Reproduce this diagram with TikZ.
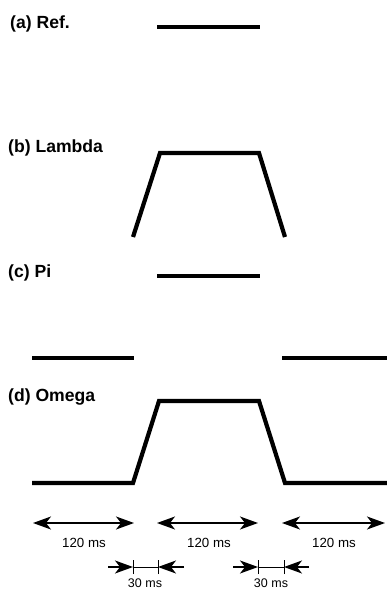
\documentclass[tikz,border=0pt]{standalone}
\usepackage{fontspec}
\setmainfont{Liberation Sans}
\usetikzlibrary{arrows.meta}
\begin{document}
\begin{tikzpicture}[x=1pt,y=-1pt,
  panel/.style={anchor=base west,inner sep=0pt,font=\fontsize{17.6}{19}\selectfont\bfseries},
  wave/.style={line width=4.2pt,line join=miter,line cap=butt},
  level/.style={wave,line width=3.6pt},
  span/.style={line width=1.3pt,{Stealth[length=18pt,width=13pt,inset=5pt]}-{Stealth[length=18pt,width=13pt,inset=5pt]}},
  inward/.style={line width=1.3pt,-{Stealth[length=18pt,width=13pt,inset=5pt]}},
  tick/.style={line width=1pt},
  dur/.style={anchor=base,inner sep=0pt,font=\fontsize{13.3}{15}\selectfont},
  shortdur/.style={anchor=base,inner sep=0pt,font=\fontsize{12.5}{14}\selectfont}]
\useasboundingbox (0,0) rectangle (387,590);

% panel labels
\node[panel] (la) at (10,28) {(a) Ref.};
\node[panel] (lb) at (8,152) {(b) Lambda};
\node[panel] (lc) at (8,277) {(c) Pi};
\node[panel] (ld) at (8,401) {(d) Omega};

% (a) reference: steady level
\coordinate (a1) at (157,27);
\coordinate (a2) at (260,27);
\draw[level] (a1) -- (a2);

% (b) lambda: ramp up, hold, ramp down
\coordinate (b1) at (133,237);
\coordinate (b2) at (160,153);
\coordinate (b3) at (259,153);
\coordinate (b4) at (285,237);
\draw[wave] (b1) -- (b2) -- (b3) -- (b4);

% (c) pi: two low segments and one high segment
\coordinate (c1) at (157,276);
\coordinate (c2) at (260,276);
\coordinate (c3) at (32,358);
\coordinate (c4) at (134,358);
\coordinate (c5) at (282,358);
\coordinate (c6) at (387,358);
\draw[level] (c1) -- (c2);
\draw[level] (c3) -- (c4);
\draw[level] (c5) -- (c6);

% (d) omega: low, ramp up, hold, ramp down, low
\coordinate (d1) at (32,483);
\coordinate (d2) at (133,483);
\coordinate (d3) at (159,401);
\coordinate (d4) at (259,401);
\coordinate (d5) at (285,483);
\coordinate (d6) at (387,483);
\draw[wave] (d1) -- (d2) -- (d3) -- (d4) -- (d5) -- (d6);

% 120 ms spans
\coordinate (s1a) at (33,523);
\coordinate (s1b) at (134,523);
\coordinate (s2a) at (157,523);
\coordinate (s2b) at (258,523);
\coordinate (s3a) at (282,523);
\coordinate (s3b) at (385,523);
\draw[span] (s1a) -- (s1b);
\draw[span] (s2a) -- (s2b);
\draw[span] (s3a) -- (s3b);
\node[dur] (t1) at (84,547) {120 ms};
\node[dur] (t2) at (209,547) {120 ms};
\node[dur] (t3) at (334,547) {120 ms};

% 30 ms ramp intervals
\coordinate (r1a) at (108,567);
\coordinate (r1b) at (133,567);
\coordinate (r1c) at (158,567);
\coordinate (r1d) at (184,567);
\draw[inward] (r1a) -- (r1b);
\draw[inward] (r1d) -- (r1c);
\draw[tick] (r1b) -- (r1c);
\draw[tick] ([yshift=-7pt]r1b) -- ([yshift=7pt]r1b);
\draw[tick] ([yshift=-7pt]r1c) -- ([yshift=7pt]r1c);
\node[shortdur] (u1) at (145,587) {30 ms};

\coordinate (r2a) at (233,567);
\coordinate (r2b) at (258,567);
\coordinate (r2c) at (284,567);
\coordinate (r2d) at (309,567);
\draw[inward] (r2a) -- (r2b);
\draw[inward] (r2d) -- (r2c);
\draw[tick] (r2b) -- (r2c);
\draw[tick] ([yshift=-7pt]r2b) -- ([yshift=7pt]r2b);
\draw[tick] ([yshift=-7pt]r2c) -- ([yshift=7pt]r2c);
\node[shortdur] (u2) at (271,587) {30 ms};
\end{tikzpicture}
\end{document}
